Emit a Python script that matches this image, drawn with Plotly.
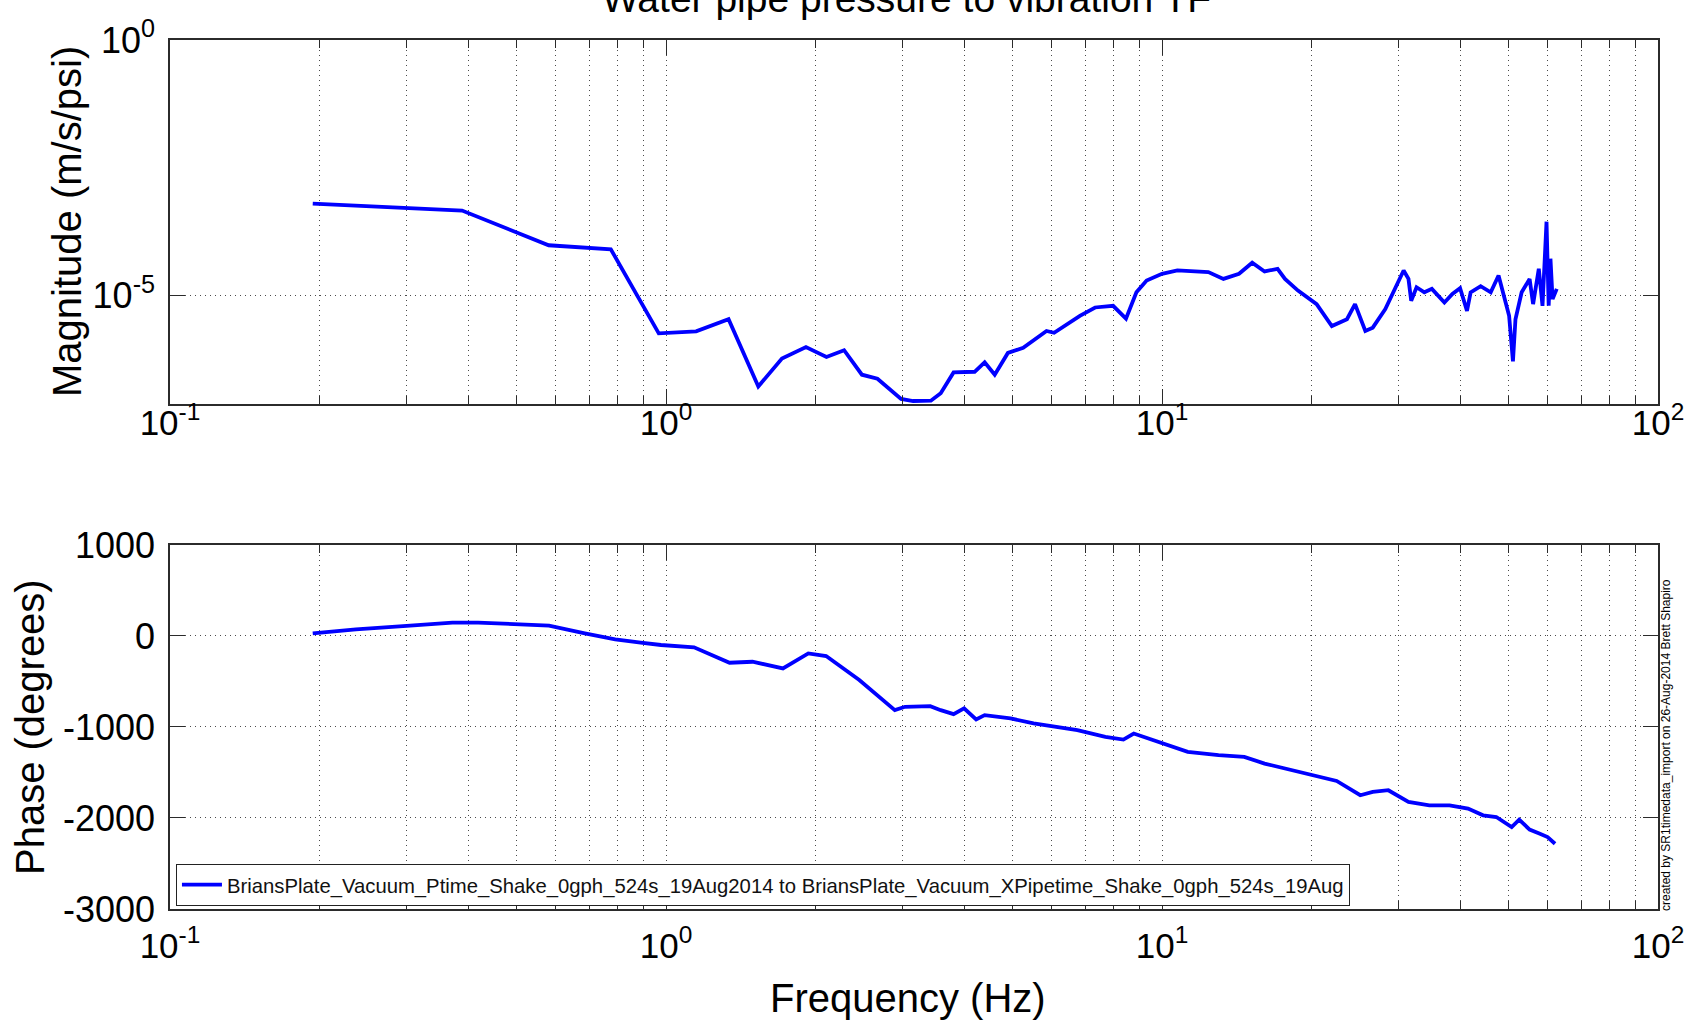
import plotly.graph_objects as go

# ---------------- data ----------------
mag_freq = [0.194, 0.236, 0.276, 0.312, 0.361, 0.388, 0.580, 0.774, 0.967, 1.15,
            1.337, 1.535, 1.713, 1.915, 2.106, 2.286, 2.483, 2.669, 2.978, 3.15,
            3.42, 3.58, 3.80, 4.19, 4.39, 4.60, 4.89, 5.25, 5.85, 6.06,
            6.83, 7.33, 7.97, 8.46, 8.88, 9.31, 10.0, 10.74, 12.4, 13.3,
            14.3, 15.2, 16.1, 17.1, 17.7, 18.8, 20.5, 22.0, 23.6, 24.5,
            25.7, 26.6, 28.2, 29.3, 30.7, 31.4, 31.8, 32.6, 33.8, 35.0,
            37.1, 38.5, 39.9, 41.2, 41.9, 43.9, 46.0, 47.7, 48.9, 50.1,
            51.0, 51.6, 53.1, 55.1, 56.0, 57.5, 58.5, 59.6, 60.2, 60.7,
            61.3, 62.5]
magnitude = [6.22e-4, 5.69e-4, 5.35e-4, 4.95e-4, 4.81e-4, 4.53e-4, 9.46e-5, 7.89e-5, 1.77e-6, 1.94e-6,
             3.35e-6, 1.61e-7, 5.66e-7, 9.51e-7, 6.11e-7, 8.28e-7, 2.74e-7, 2.28e-7, 9.16e-8, 8.36e-8,
             8.49e-8, 1.19e-7, 3.04e-7, 3.13e-7, 4.80e-7, 2.74e-7, 7.33e-7, 9.20e-7, 1.97e-6, 1.82e-6,
             3.90e-6, 5.70e-6, 6.15e-6, 3.45e-6, 1.13e-5, 1.92e-5, 2.61e-5, 3.03e-5, 2.81e-5, 2.07e-5,
             2.61e-5, 4.30e-5, 2.90e-5, 3.27e-5, 2.07e-5, 1.22e-5, 6.64e-6, 2.47e-6, 3.35e-6, 6.64e-6,
             1.97e-6, 2.29e-6, 5.28e-6, 1.13e-5, 3.03e-5, 2.07e-5, 7.73e-6, 1.42e-5, 1.13e-5, 1.32e-5,
             7.16e-6, 1.05e-5, 1.36e-5, 4.90e-6, 1.13e-5, 1.49e-5, 1.13e-5, 2.42e-5, 9.70e-6, 3.90e-6,
             5.01e-7, 3.35e-6, 1.13e-5, 2.07e-5, 6.64e-6, 3.27e-5, 6.15e-6, 2.74e-4, 6.15e-6, 5.15e-5,
             8.34e-6, 1.32e-5]

phase_freq = [0.194, 0.237, 0.300, 0.371, 0.418, 0.504, 0.581, 0.686, 0.790, 0.889,
              0.977, 1.139, 1.343, 1.494, 1.721, 1.936, 2.103, 2.453, 2.893, 3.033,
              3.41, 3.58, 3.80, 3.99, 4.22, 4.39, 4.95, 5.51, 6.06, 6.75,
              7.69, 8.36, 8.77, 10.0, 11.27, 13.0, 14.65, 16.1, 18.2, 20.0,
              22.5, 25.1, 26.6, 28.6, 31.4, 34.6, 38.0, 41.4, 44.4, 47.2,
              50.7, 52.5, 55.1, 57.8, 59.9, 62.0]
phase = [29, 73, 110, 147, 147, 132, 114, 29, -37, -73,
         -99, -125, -294, -283, -356, -191, -220, -484, -815, -778,
         -771, -815, -859, -796, -917, -870, -906, -961, -998, -1035,
         -1108, -1138, -1072, -1182, -1273, -1310, -1328, -1402, -1475, -1530,
         -1593, -1750, -1714, -1695, -1824, -1861, -1861, -1897, -1971, -1989,
         -2099, -2018, -2128, -2172, -2209, -2283]

x_decades = [0.1, 1, 10, 100]
x_ticktext = ["10<sup>-1</sup>", "10<sup>0</sup>", "10<sup>1</sup>", "10<sup>2</sup>"]
mag_tickvals = [1e-5, 1]
mag_ticktext = ["10<sup>-5</sup>", "10<sup>0</sup>"]
phase_tickvals = [-3000, -2000, -1000, 0, 1000]
phase_ticktext = ["-3000", "-2000", "-1000", "0", "1000"]

series_name = ("BriansPlate_Vacuum_Ptime_Shake_0gph_524s_19Aug2014 to "
               "BriansPlate_Vacuum_XPipetime_Shake_0gph_524s_19Aug")
title_text = "Water pipe pressure to vibration TF"
credit_text = "created by SR1timedata_import on 26-Aug-2014 Brett Shapiro"

# minor log positions 2..9 in each decade
x_minor = [m * d for d in [0.1, 1, 10] for m in range(2, 10)]

FONT = "Liberation Sans, Arial, Helvetica, sans-serif"
BLUE = "#0000FF"
AX = "#2b2b2b"
GRID = "#4a4a4a"
DASH = "1px,4px"

fig = go.Figure()
fig.add_trace(go.Scatter(x=mag_freq, y=magnitude, mode="lines",
                         line=dict(color=BLUE, width=3.8),
                         xaxis="x", yaxis="y", showlegend=False,
                         name=series_name))
fig.add_trace(go.Scatter(x=phase_freq, y=phase, mode="lines",
                         line=dict(color=BLUE, width=3.8),
                         xaxis="x2", yaxis="y2", showlegend=True,
                         name=series_name))

def xaxis_cfg(anchor, standoff):
    return dict(type="log", range=[-1, 2], domain=[0, 1], anchor=anchor,
                tickmode="array", tickvals=x_decades, ticktext=x_ticktext,
                ticks="inside", ticklen=15, tickwidth=1.2, tickcolor=AX,
                ticklabelstandoff=standoff,
                showline=True, linecolor=AX, linewidth=1.5, mirror="ticks",
                showgrid=True, gridcolor=GRID, gridwidth=1, griddash=DASH,
                zeroline=False,
                tickfont=dict(family=FONT, size=35, color="black"),
                minor=dict(tickmode="array", tickvals=x_minor, ticks="inside",
                           ticklen=8, tickwidth=1, tickcolor=AX,
                           showgrid=True, gridcolor=GRID, gridwidth=1, griddash=DASH))

fig.update_layout(
    width=1705, height=1024,
    margin=dict(l=170, r=47, t=40, b=115),
    paper_bgcolor="white", plot_bgcolor="white",
    font=dict(family=FONT, color="black"),
    xaxis=xaxis_cfg("y", -13),
    xaxis2=xaxis_cfg("y2", 5),
    yaxis=dict(type="log", range=[-7.137, 0], domain=[0.5811, 1.0], anchor="x",
               tickmode="array", tickvals=mag_tickvals, ticktext=mag_ticktext,
               ticks="inside", ticklen=15, tickwidth=1.2, tickcolor=AX,
               ticklabelstandoff=6,
               showline=True, linecolor=AX, linewidth=1.5, mirror="ticks",
               showgrid=True, gridcolor=GRID, gridwidth=1, griddash=DASH,
               zeroline=False,
               tickfont=dict(family=FONT, size=36, color="black")),
    yaxis2=dict(range=[-3000, 1000], domain=[0, 0.4189], anchor="x2",
                tickmode="array", tickvals=phase_tickvals, ticktext=phase_ticktext,
                ticks="inside", ticklen=15, tickwidth=1.2, tickcolor=AX,
                ticklabelstandoff=6,
                showline=True, linecolor=AX, linewidth=1.5, mirror="ticks",
                showgrid=True, gridcolor=GRID, gridwidth=1, griddash=DASH,
                zeroline=False,
                tickfont=dict(family=FONT, size=36, color="black")),
    legend=dict(x=0.004, y=0.0035, xanchor="left", yanchor="bottom",
                xref="paper", yref="paper",
                bgcolor="white", bordercolor="#222222", borderwidth=1,
                font=dict(family=FONT, size=20.3, color="#111111"),
                tracegroupgap=0, itemwidth=40),
    annotations=[
        dict(text=title_text, xref="paper", yref="paper", x=0.495, y=1.0,
             xanchor="center", yanchor="bottom", yshift=18, showarrow=False,
             font=dict(family=FONT, size=39, color="black")),
        dict(text="Magnitude (m/s/psi)", xref="paper", yref="paper",
             x=0, xshift=-103, y=0.7906, xanchor="center", yanchor="middle",
             textangle=-90, showarrow=False,
             font=dict(family=FONT, size=40, color="black")),
        dict(text="Phase (degrees)", xref="paper", yref="paper",
             x=0, xshift=-140, y=0.2094, xanchor="center", yanchor="middle",
             textangle=-90, showarrow=False,
             font=dict(family=FONT, size=40, color="black")),
        dict(text="Frequency (Hz)", xref="paper", yref="paper",
             x=0.496, y=0, yshift=-89, xanchor="center", yanchor="middle",
             showarrow=False,
             font=dict(family=FONT, size=40, color="black")),
        dict(text=credit_text, xref="paper", yref="paper",
             x=1.0, xshift=8, y=0.1887, xanchor="center", yanchor="middle",
             textangle=-90, showarrow=False,
             font=dict(family=FONT, size=12, color="black")),
    ],
)

fig.write_html("out.html")
